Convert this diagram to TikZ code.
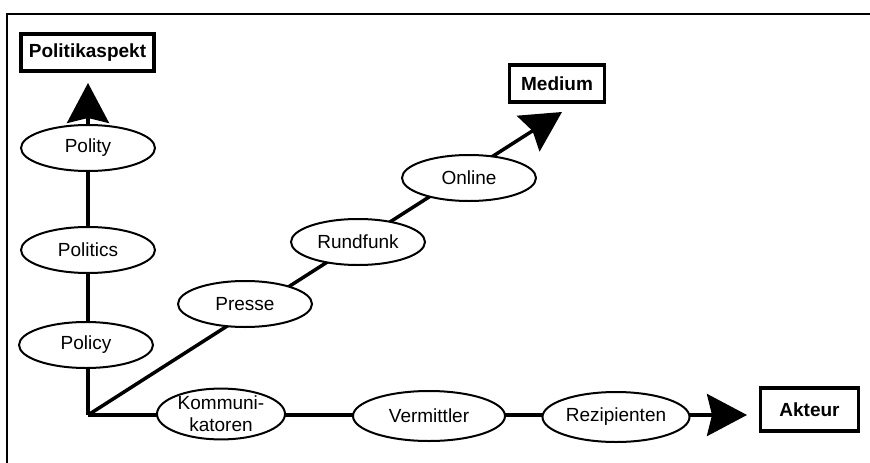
\documentclass[tikz,border=0pt]{standalone}
\usepackage{fontspec}
\setmainfont{Liberation Sans}
\usetikzlibrary{arrows.meta,shapes.geometric}
\begin{document}
\begin{tikzpicture}[x=1pt,y=-1pt,
  axis/.style={line width=3.5pt,-{Stealth[length=40pt,width=42pt,inset=5pt]}},
  oval/.style={ellipse,draw,fill=white,line width=2pt,inner sep=0pt,
    minimum width=134pt,minimum height=46pt,align=center,
    font=\fontsize{19}{20}\selectfont},
  labelbox/.style={draw,fill=white,line width=3.5pt,inner sep=0pt,
    font=\bfseries\fontsize{19}{20}\selectfont},
  frame/.style={line width=1.5pt}]
\useasboundingbox (0,0) rectangle (870,463);
% frame
\coordinate (fTR) at (870,14);
\coordinate (fTL) at (7,14);
\coordinate (fBL) at (7,463);
\draw[frame] (fTR) -- (fTL) -- (fBL);
% axes
\coordinate (O) at (88,415);
\coordinate (tipP) at (88,83);
\coordinate (tipM) at (562,112);
\coordinate (tipA) at (747,415);
\draw[axis] (O) -- (tipP);
\draw[axis] (O) -- (tipM);
\draw[axis] (O) -- (tipA);
% vertical axis items
\node[oval] (polity) at (88,148) {Polity};
\node[oval] (politics) at (88,250) {Politics};
\node[oval] (policy) at (86,345) {Policy};
% diagonal items
\node[oval] (presse) at (245,304) {Presse};
\node[oval] (rundfunk) at (358,242) {Rundfunk};
\node[oval] (online) at (469,178) {Online};
% horizontal items
\node[oval,minimum width=128pt,minimum height=48pt,
  font=\fontsize{19}{22}\selectfont] (komm) at (221,414) {Kommuni-\\katoren};
\node[oval,minimum width=152pt,minimum height=50pt] (verm) at (429,416) {Vermittler};
\node[oval,minimum width=147pt,minimum height=50pt] (rezi) at (616,417) {Rezipienten};
% labels
\node[labelbox,minimum width=133pt,minimum height=37pt] (polasp) at (87.5,52.5) {Politikaspekt};
\node[labelbox,minimum width=95pt,minimum height=37pt] (medium) at (557,83.5) {Medium};
\node[labelbox,minimum width=98pt,minimum height=43pt] (akteur) at (809.5,409.5) {Akteur};
\end{tikzpicture}
\end{document}
